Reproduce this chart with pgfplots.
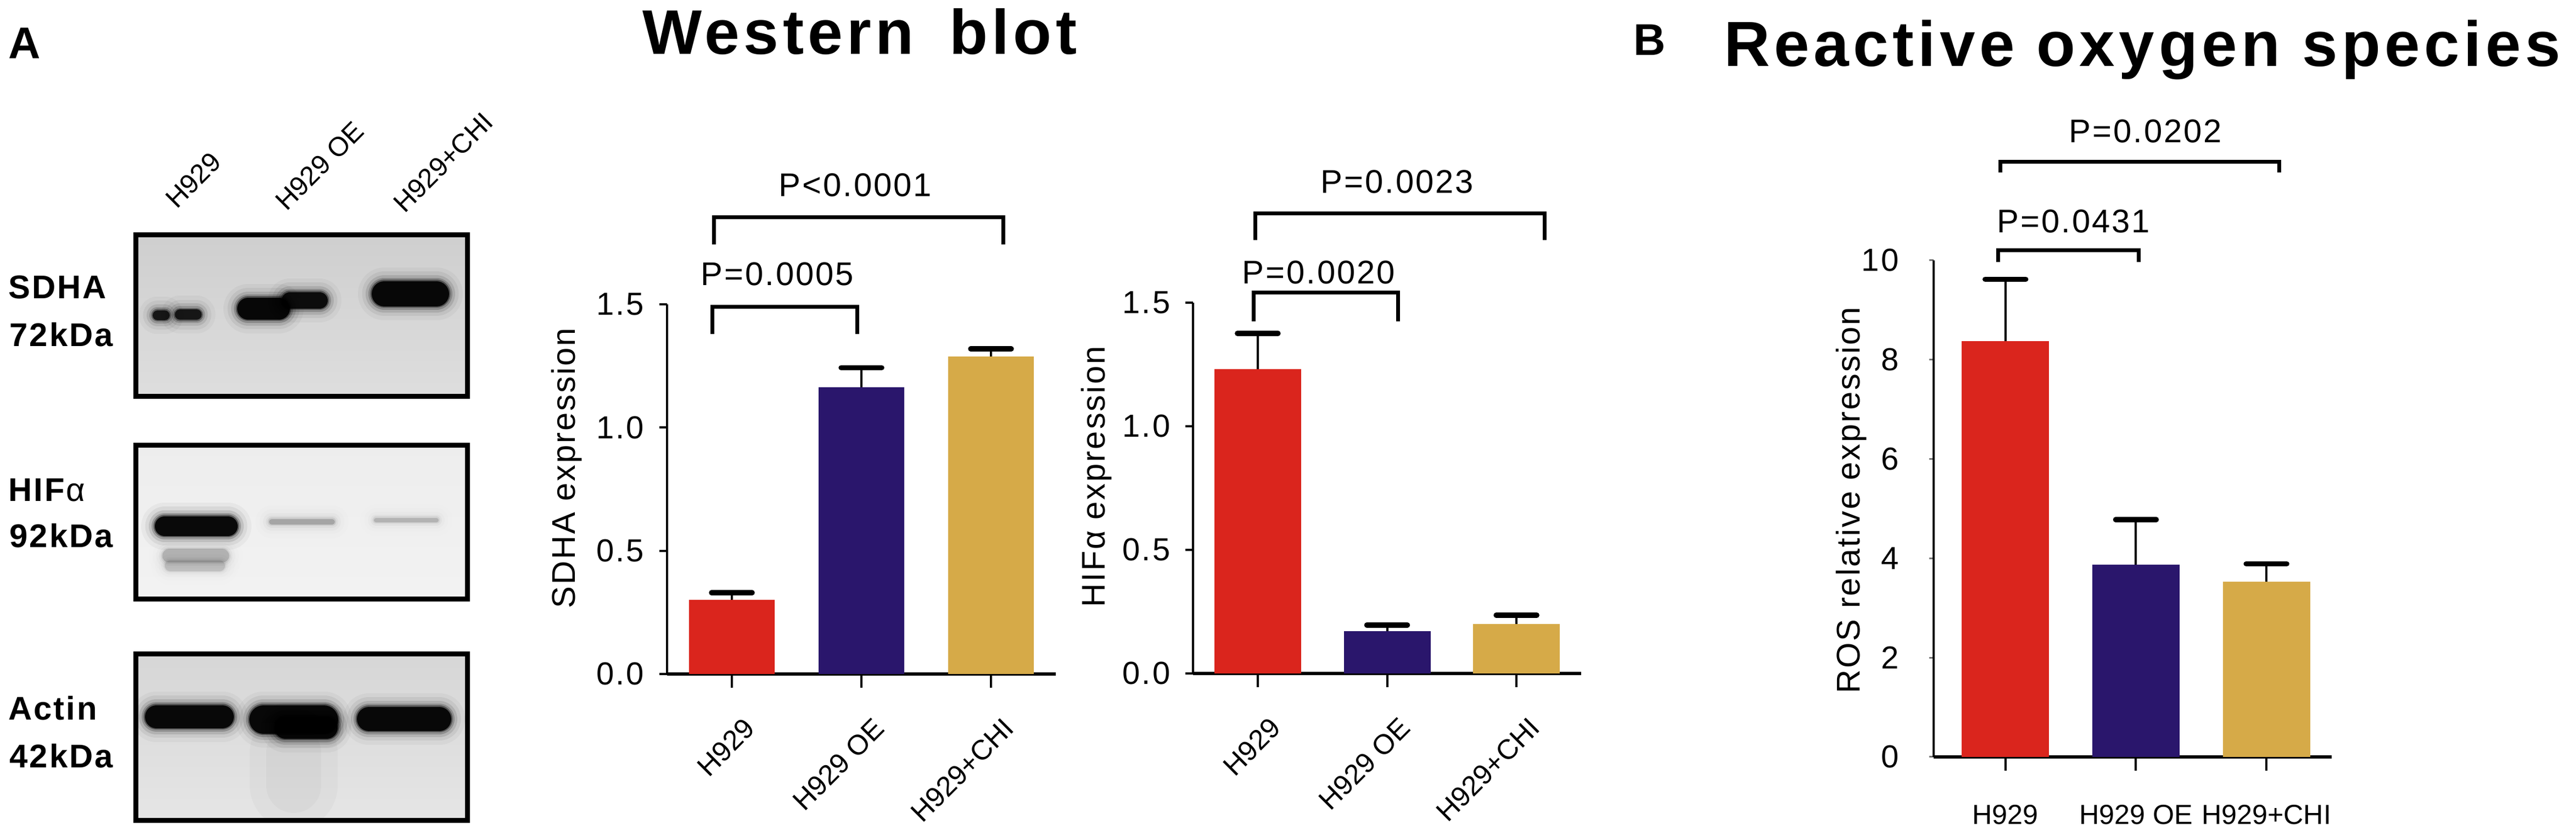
\documentclass[border=0pt]{standalone}
\usepackage{fontspec}
\setmainfont{Liberation Sans}[LetterSpace=5]
\newfontfamily\plainfont{Liberation Sans}
\newfontfamily\titlefont{Liberation Sans}[LetterSpace=6.5]
\usepackage{pgfplots}
\pgfplotsset{compat=1.18}
\definecolor{bred}{HTML}{DA251D}
\definecolor{bnavy}{HTML}{2A166C}
\definecolor{bgold}{HTML}{D6AA48}

% one blot band: x1, x2, y (px), core thickness (mm), darkness
\newcommand{\band}[5]{%
  \pgfmathsetmacro\bA{0.035*#5}\pgfmathsetmacro\bB{0.06*#5}\pgfmathsetmacro\bC{0.11*#5}%
  \pgfmathsetmacro\bD{0.2*#5}\pgfmathsetmacro\bE{0.4*#5}\pgfmathsetmacro\bF{0.9*#5}%
  \pgfmathsetmacro\wA{#4+5}\pgfmathsetmacro\wB{#4+3.5}\pgfmathsetmacro\wC{#4+2.2}%
  \pgfmathsetmacro\wD{#4+1.2}\pgfmathsetmacro\wE{#4+0.5}%
  \edef\doband{%
    \noexpand\addplot[black, line cap=round, line width=\wA mm, opacity=\bA] coordinates {(#1,-#3) (#2,-#3)};%
    \noexpand\addplot[black, line cap=round, line width=\wB mm, opacity=\bB] coordinates {(#1,-#3) (#2,-#3)};%
    \noexpand\addplot[black, line cap=round, line width=\wC mm, opacity=\bC] coordinates {(#1,-#3) (#2,-#3)};%
    \noexpand\addplot[black, line cap=round, line width=\wD mm, opacity=\bD] coordinates {(#1,-#3) (#2,-#3)};%
    \noexpand\addplot[black, line cap=round, line width=\wE mm, opacity=\bE] coordinates {(#1,-#3) (#2,-#3)};%
    \noexpand\addplot[black, line cap=round, line width=#4mm, opacity=\bF] coordinates {(#1,-#3) (#2,-#3)};%
  }\doband}

% bar with upper error bar: x, value, err, colour, bar width
\newcommand{\ebar}[5]{%
  \addplot[ybar, bar width=#5, fill=#4, draw=none,
    error bars/.cd, y dir=plus, y explicit, error mark=none,
    error bar style={draw=black, line width=0.4mm}]
    coordinates {(#1,#2) +- (0,#3)};}

\pgfplotsset{
  blotax/.style={scale only axis, anchor=south west, width=60.4mm,
    xmin=247, xmax=851, xtick=\empty, ytick=\empty,
    axis line style={line width=0.9mm}, axis on top},
  barax/.style={scale only axis, anchor=south west, axis lines*=left, clip=false,
    x axis line style={line width=0.55mm}, y axis line style={line width=0.4mm},
    tick align=outside, xtick={0,1,2},
    xtick style={line width=0.4mm, black, /pgfplots/major tick length=2.5mm},
    ytick style={line width=0.4mm, black, /pgfplots/major tick length=1.4mm},
    yticklabel style={font=\fontsize{16.5}{19}\selectfont, inner sep=0pt, anchor=east, xshift=-2.6mm},
    /pgf/number format/assume math mode=true},
  rotx/.style={xticklabels={H929,H929 OE,H929+CHI},
    xticklabel style={font=\plainfont\fontsize{14.5}{16}\selectfont, inner sep=0pt,
      xshift=3.3mm, yshift=-7.5mm, rotate=45, anchor=east}},
  capmk/.style={only marks, mark=-, mark size=3.7mm, black,
    mark options={line width=0.95mm, line cap=round}},
  brk/.style={black, line width=0.7mm, line join=miter},
}

\begin{document}
\begin{tikzpicture}
\path[use as bounding box] (0,0) rectangle (469.2mm,-151.1mm);

% ---------- Western blot panels ----------
\begin{axis}[blotax, at={(24.7mm,-72.2mm)}, height=29.4mm, ymin=-722, ymax=-428,
  axis background/.style={top color=black!19, bottom color=black!13}]
\band{287}{300}{574}{1.8}{0.85}
\band{328}{358}{573}{1.9}{0.85}
\band{452}{508}{562}{4.0}{1}
\band{528}{582}{547}{3.0}{0.95}
\band{700}{795}{535}{4.6}{1}
\end{axis}

\begin{axis}[blotax, at={(24.7mm,-109.1mm)}, height=28.0mm, ymin=-1091, ymax=-811,
  axis background/.style={top color=black!7, bottom color=black!5}]
\band{308}{405}{1012}{2.5}{0.16}
\band{310}{400}{1030}{2.0}{0.12}
\band{300}{415}{958}{3.6}{1}
\band{495}{605}{950}{1.0}{0.2}
\band{685}{795}{947}{0.8}{0.16}
\end{axis}

\begin{axis}[blotax, at={(24.7mm,-149.4mm)}, height=30.3mm, ymin=-1494, ymax=-1191,
  axis background/.style={top color=black!16, bottom color=black!10}]
\addplot[black, opacity=0.025, line width=16mm, line cap=round] coordinates {(535,-1370) (535,-1430)};
\addplot[black, opacity=0.025, line width=10mm, line cap=round] coordinates {(535,-1370) (535,-1430)};
\band{285}{405}{1305}{4.2}{1}
\band{480}{590}{1310}{5.2}{1}
\band{520}{595}{1325}{4.0}{1}
\band{672}{800}{1309}{4.4}{1}
\end{axis}

% ---------- SDHA expression ----------
\begin{axis}[barax, rotx, at={(121.5mm,-122.7mm)}, width=70.8mm, height=67.3mm,
  xmin=-0.5, xmax=2.5, ymin=0, ymax=1.5, ytick={0,0.5,1,1.5},
  yticklabel={\pgfmathprintnumber[fixed,fixed zerofill,precision=1]{\tick}}]
\ebar{0}{0.300}{0.030}{bred}{15.6mm}
\ebar{1}{1.163}{0.080}{bnavy}{15.6mm}
\ebar{2}{1.288}{0.031}{bgold}{15.6mm}
\addplot[capmk] coordinates {(0,0.330) (1,1.243) (2,1.319)};
\addplot[brk] coordinates {(-0.15,1.380) (-0.15,1.489) (0.97,1.489) (0.97,1.380)};
\addplot[brk] coordinates {(-0.136,1.743) (-0.136,1.854) (2.097,1.854) (2.097,1.743)};
\end{axis}

% ---------- HIFa expression ----------
\begin{axis}[barax, rotx, at={(217.3mm,-122.6mm)}, width=70.7mm, height=67.5mm,
  xmin=-0.5, xmax=2.5, ymin=0, ymax=1.5, ytick={0,0.5,1,1.5},
  yticklabel={\pgfmathprintnumber[fixed,fixed zerofill,precision=1]{\tick}}]
\ebar{0}{1.231}{0.145}{bred}{15.8mm}
\ebar{1}{0.171}{0.025}{bnavy}{15.8mm}
\ebar{2}{0.200}{0.036}{bgold}{15.8mm}
\addplot[capmk] coordinates {(0,1.376) (1,0.196) (2,0.236)};
\addplot[brk] coordinates {(-0.03,1.424) (-0.03,1.542) (1.085,1.542) (1.085,1.424)};
\addplot[brk] coordinates {(-0.02,1.753) (-0.02,1.862) (2.216,1.862) (2.216,1.753)};
\end{axis}

% ---------- ROS relative expression ----------
\begin{axis}[barax, at={(352.2mm,-137.8mm)}, width=72.5mm, height=90.4mm,
  xmin=-0.55, xmax=2.5, ymin=0, ymax=10, ytick={0,2,4,6,8,10},
  ytick style={line width=0.3mm, black!55, /pgfplots/major tick length=0.8mm},
  yticklabel style={xshift=-2.2mm},
  xticklabels={H929,H929 OE,H929+CHI},
  xticklabel style={font=\plainfont\fontsize{14.3}{16}\selectfont, inner sep=0pt, anchor=north, yshift=-7.2mm}]
\ebar{0}{8.37}{1.25}{bred}{15.9mm}
\ebar{1}{3.87}{0.91}{bnavy}{15.9mm}
\ebar{2}{3.53}{0.36}{bgold}{15.9mm}
\addplot[capmk] coordinates {(0,9.62) (1,4.78) (2,3.89)};
\addplot[brk] coordinates {(-0.055,9.97) (-0.055,10.2) (1.02,10.2) (1.02,9.97)};
\addplot[brk] coordinates {(-0.04,11.77) (-0.04,11.98) (2.10,11.98) (2.10,11.77)};
\end{axis}

% ---------- texts ----------
\begin{scope}[x=0.1mm, y=-0.1mm, every node/.style={inner sep=0pt}]
\node[anchor=base west, font=\bfseries\fontsize{23}{26}\selectfont] at (15,107) {A};
\node[anchor=base west, font=\bfseries\fontsize{23}{26}\selectfont] at (2975,101) {B};
\node[anchor=base, font=\titlefont\bfseries\fontsize{32.6}{36}\selectfont] at (1566,99) {Western\hspace{2.5mm} blot};
\node[anchor=base, font=\titlefont\bfseries\fontsize{33}{36}\selectfont] at (3902,121) {Reactive oxygen species};
% blot labels
\begin{scope}[every node/.style={inner sep=0pt, anchor=base west, font=\bfseries\fontsize{17}{20}\selectfont}]
\node at (15,544) {SDHA};
\node at (17,631) {72kDa};
\node at (15,912) {HIF\textmd{α}};
\node at (17,996) {92kDa};
\node at (15,1310) {Actin};
\node at (17,1397) {42kDa};
\end{scope}
\begin{scope}[every node/.style={inner sep=0pt, anchor=base west, rotate=45, font=\plainfont\fontsize{14}{16}\selectfont}]
\node at (322,382) {H929};
\node at (522,386) {H929 OE};
\node at (737,390) {H929+CHI};
\end{scope}
% p-values
\begin{scope}[every node/.style={inner sep=0pt, anchor=base, font=\fontsize{17}{20}\selectfont}]
\node at (1416,520) {P=0.0005};
\node at (1558,358) {P<0.0001};
\node at (2402,517) {P=0.0020};
\node at (2545,352) {P=0.0023};
\node at (3777,424) {P=0.0431};
\node at (3908,260) {P=0.0202};
\end{scope}
% y labels
\begin{scope}[every node/.style={inner sep=0pt, anchor=base, rotate=90, font=\fontsize{17}{20}\selectfont}]
\node at (1047,852) {SDHA expression};
\node at (2012,868) {HIFα expression};
\node at (3387,911) {ROS relative expression};
\end{scope}
\end{scope}
\end{tikzpicture}
\end{document}
